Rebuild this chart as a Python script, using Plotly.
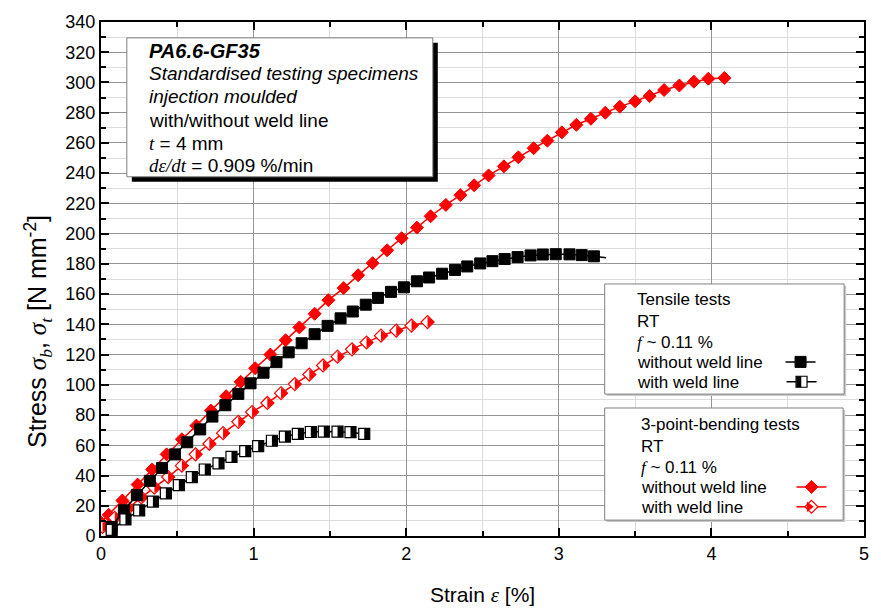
import plotly.graph_objects as go

# ---------------- data ----------------
# 3-point-bending, without weld line (red filled diamonds)
bend_x = [0.00, 0.05, 0.14, 0.24, 0.335, 0.43, 0.53, 0.625, 0.72, 0.82, 0.915, 1.01, 1.11, 1.21,
          1.30, 1.40, 1.49, 1.59, 1.685, 1.78, 1.875, 1.97, 2.07, 2.16, 2.26, 2.355, 2.445, 2.54,
          2.64, 2.735, 2.835, 2.925, 3.02, 3.115, 3.21, 3.305, 3.40, 3.50, 3.595, 3.69, 3.79,
          3.885, 3.98, 4.085]
bend_y = [9, 14, 23.5, 34, 44, 54, 64, 73, 83, 92.5, 102, 111, 120, 129.5,
          138, 147, 156, 164, 172.5, 180.5, 189, 197, 204, 211.5, 219, 225.5, 232, 238.5,
          244.5, 250.5, 256.5, 261.5, 267, 272, 276, 280, 284, 287.5, 291, 295, 298,
          300.5, 302.5, 303]

# 3-point-bending, with weld line (red half-filled diamonds)
bendw_x = [0.01, 0.09, 0.18, 0.265, 0.35, 0.44, 0.53, 0.62, 0.71, 0.80, 0.90, 0.99, 1.09, 1.18,
           1.27, 1.365, 1.455, 1.55, 1.645, 1.74, 1.835, 1.935, 2.035, 2.14]
bendw_y = [6, 12, 18.5, 25.5, 32, 39, 46.5, 54, 61, 68, 75.5, 82, 88, 94.5,
           100.5, 106.8, 112.8, 118.6, 123.5, 128, 132.5, 135.8, 139.2, 141.5]

# Tensile, without weld line (black filled squares)
tens_x = [0.07, 0.15, 0.235, 0.32, 0.40, 0.485, 0.565, 0.65, 0.73, 0.815, 0.90, 0.98, 1.065, 1.15,
          1.23, 1.315, 1.40, 1.485, 1.57, 1.65, 1.735, 1.815, 1.90, 1.985, 2.07, 2.15, 2.235, 2.32,
          2.40, 2.485, 2.565, 2.645, 2.73, 2.815, 2.895, 2.98, 3.07, 3.15, 3.23]
tens_y = [6, 17, 27, 36.5, 45, 54, 62, 70.5, 79, 86.5, 94, 101, 108, 115,
          121.5, 127.5, 133.5, 139, 144, 148.5, 153, 157.5, 161.5, 164.5, 168.5, 171, 173.5, 176,
          178.3, 180.3, 181.8, 183.2, 184.5, 185.6, 186.2, 186.4, 186.3, 185.8, 185]
# continuation of the tensile curve beyond the last marker
tens_tail_x = [3.23, 3.31]
tens_tail_y = [185, 184]

# Tensile, with weld line (black half-filled squares)
tensw_x = [0.07, 0.16, 0.25, 0.34, 0.425, 0.51, 0.595, 0.68, 0.77, 0.855, 0.945, 1.03, 1.12, 1.205,
           1.29, 1.375, 1.46, 1.55, 1.635, 1.725]
tensw_y = [4, 11, 17, 22.8, 28.2, 33.7, 39, 44, 48.1, 52.3, 56.2, 59.5, 63, 65.8,
           67.6, 68.8, 69.1, 69, 68.7, 67.5]

x_tickvals = [0, 1, 2, 3, 4, 5]
y_tickvals = [0, 20, 40, 60, 80, 100, 120, 140, 160, 180, 200, 220, 240, 260, 280, 300, 320, 340]

# ---------------- geometry helpers (pixels -> paper) ----------------
W, H = 881, 608
ML, MR, MT, MB = 101, 12, 18, 72
PW, PH = W - ML - MR, H - MT - MB


def px(x):
    return (x - ML) / PW


def py(y):
    return (H - MB - y) / PH


SANS = "Liberation Sans, Arial, sans-serif"
SERIF = "Liberation Serif"
RED = "#ff0000"

fig = go.Figure()

SQ = 11   # square size
DI = 10   # diamond size

# red filled diamonds
fig.add_trace(go.Scatter(
    x=bend_x, y=bend_y, mode="lines+markers", name="", legend="legend3",
    line=dict(color=RED, width=1.5),
    marker=dict(symbol="diamond", size=DI, color=RED, line=dict(color=RED, width=1))))

# red half-filled diamonds: white diamond + right-half triangle
fig.add_trace(go.Scatter(
    x=bendw_x, y=bendw_y, mode="lines+markers", name="", legend="legend4",
    line=dict(color=RED, width=1.5),
    marker=dict(symbol="diamond", size=DI, color="white", line=dict(color=RED, width=1.2))))
fig.add_trace(go.Scatter(
    x=bendw_x, y=bendw_y, mode="markers", name="", legend="legend6",
    marker=dict(symbol="triangle-down", size=9.2, angle=-90, standoff=2.3, color=RED,
                line=dict(width=0))))

# black filled squares
fig.add_trace(go.Scatter(
    x=tens_tail_x, y=tens_tail_y, mode="lines", showlegend=False,
    line=dict(color="black", width=1.5)))
fig.add_trace(go.Scatter(
    x=tens_x, y=tens_y, mode="lines+markers", name="", legend="legend",
    line=dict(color="black", width=1.5),
    marker=dict(symbol="square", size=SQ, color="black", line=dict(color="black", width=1))))

# black half-filled squares: white square + right-half bar
fig.add_trace(go.Scatter(
    x=tensw_x, y=tensw_y, mode="lines+markers", name="", legend="legend2",
    line=dict(color="black", width=1.5),
    marker=dict(symbol="square", size=SQ, color="white", line=dict(color="black", width=1.2))))
fig.add_trace(go.Scatter(
    x=tensw_x, y=tensw_y, mode="markers", name="", legend="legend5",
    marker=dict(symbol="line-ew", size=SQ / 1.4, angle=-90, standoff=SQ / 4, color="black",
                line=dict(color="black", width=SQ / 2))))

# ---------------- boxes ----------------
shapes = []


def box(x0, y0, x1, y1, shadow, soff, border):
    shapes.append(dict(type="rect", xref="paper", yref="paper", layer="above",
                       x0=px(x0 + soff), x1=px(x1 + soff), y0=py(y0 + soff), y1=py(y1 + soff),
                       fillcolor=shadow, line=dict(width=0)))
    shapes.append(dict(type="rect", xref="paper", yref="paper", layer="above",
                       x0=px(x0), x1=px(x1), y0=py(y0), y1=py(y1),
                       fillcolor="white", line=dict(color=border, width=1)))


box(127, 34, 435, 174, "black", 5, "#808080")
box(608, 282, 849, 393, "#c8c8c8", 2, "#808080")
box(608, 407, 848, 520, "#c8c8c8", 2, "#808080")

annotations = []


def txt(x, y, s, size=19, **kw):
    d = dict(x=px(x), y=py(y), xref="paper", yref="paper", text=s, showarrow=False,
             xanchor="left", yanchor="middle", font=dict(family=SANS, size=size, color="black"))
    d.update(kw)
    annotations.append(d)


def ser(s):
    return '<span style="font-family:%s"><i>%s</i></span>' % (SERIF, s)


txt(147, 47, "<b><i>PA6.6-GF35</i></b>", size=20)
txt(147, 70, "<i>Standardised testing specimens</i>")
txt(147, 93, "<i>injection moulded</i>")
txt(147, 117, "with/without weld line")
txt(147, 140, ser("t") + " = 4 mm")
txt(147, 163, ser("d\u03b5/dt") + " = 0.909 %/min")

for (x0, y0, title) in [(638, 298, "Tensile tests"), (643, 424, "3-point-bending tests")]:
    txt(x0, y0, title, size=17)
    txt(x0, y0 + 21.5, "RT", size=17)
    txt(x0, y0 + 43, ser("f") + " ~ 0.11 %", size=17)
    txt(x0, y0 + 63, "without weld line", size=17)
    txt(x0, y0 + 83, "with weld line", size=17)

# axis titles
annotations.append(dict(x=px(37), y=py(330), xref="paper", yref="paper", showarrow=False,
                        textangle=-90, xanchor="center", yanchor="middle",
                        text="Stress " + ser("\u03c3<sub>b</sub>") + ", " + ser("\u03c3<sub>t</sub>")
                             + " [N mm<sup>-2</sup>]",
                        font=dict(family=SANS, size=25, color="black")))
annotations.append(dict(x=px(485), y=py(595), xref="paper", yref="paper", showarrow=False,
                        xanchor="center", yanchor="middle",
                        text="Strain " + ser("\u03b5") + " [%]",
                        font=dict(family=SANS, size=21, color="black")))


def leg(cx, cy):
    return dict(x=px(cx - 20), y=py(cy), xanchor="left", yanchor="middle",
                bgcolor="rgba(0,0,0,0)", borderwidth=0,
                font=dict(family=SANS, size=17, color="black"))


axis_common = dict(
    showline=True, linecolor="black", linewidth=2, mirror="ticks",
    ticks="inside", tickcolor="black", tickwidth=1.5, ticklen=8,
    showgrid=True, gridcolor="#959595", gridwidth=1, zeroline=False,
    tickfont=dict(family=SANS, size=18, color="black"),
)

fig.update_layout(
    width=W, height=H, margin=dict(l=ML, r=MR, t=MT, b=MB),
    paper_bgcolor="white", plot_bgcolor="white",
    xaxis=dict(range=[0, 5], tickvals=x_tickvals, **axis_common,
               minor=dict(dtick=0.5, ticks="inside", ticklen=5, tickcolor="black", tickwidth=1.5,
                          showgrid=True, gridcolor="#dcdcdc", gridwidth=1)),
    yaxis=dict(range=[0, 340], tickvals=y_tickvals, **axis_common,
               minor=dict(dtick=10, ticks="inside", ticklen=5, tickcolor="black", tickwidth=1.5,
                          showgrid=True, gridcolor="#dcdcdc", gridwidth=1)),
    shapes=shapes, annotations=annotations,
    legend=leg(805, 361), legend2=leg(806, 381), legend5=leg(806, 381),
    legend3=leg(816, 487), legend4=leg(816, 507), legend6=leg(816, 507),
    showlegend=True,
)

fig.write_html("out.html")
